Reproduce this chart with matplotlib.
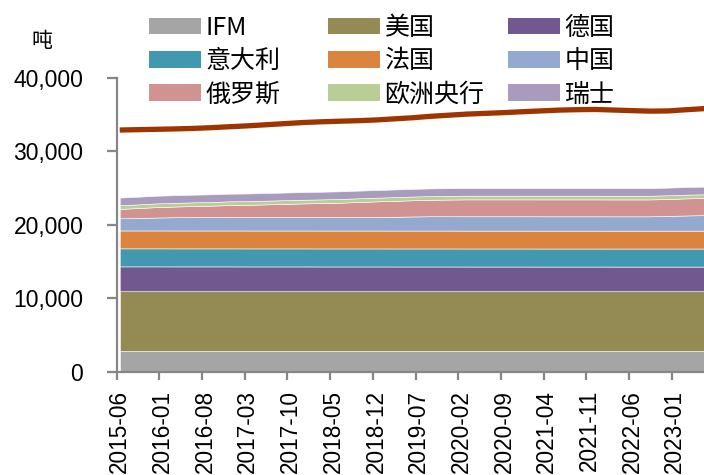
import matplotlib
matplotlib.use("Agg")
import matplotlib.pyplot as plt
from matplotlib.patches import Patch
from matplotlib.ticker import FuncFormatter, FixedLocator

plt.rcParams['font.family'] = ['Noto Sans CJK SC', 'DejaVu Sans']

# ---------------- data (tonnes, quarterly samples) ----------------
dates = ["2015-06", "2015-09", "2015-12",
         "2016-03", "2016-06", "2016-09", "2016-12",
         "2017-03", "2017-06", "2017-09", "2017-12",
         "2018-03", "2018-06", "2018-09", "2018-12",
         "2019-03", "2019-06", "2019-09", "2019-12",
         "2020-03", "2020-06", "2020-09", "2020-12",
         "2021-03", "2021-06", "2021-09", "2021-12",
         "2022-03", "2022-06", "2022-09", "2022-12",
         "2023-03", "2023-06"]

imf = [2814, 2814, 2814, 2814, 2814, 2814, 2814, 2814, 2814, 2814, 2814,
       2814, 2814, 2814, 2814, 2814, 2814, 2814, 2814, 2814, 2814, 2814,
       2814, 2814, 2814, 2814, 2814, 2814, 2814, 2814, 2814, 2814, 2814]
usa = [8133.5, 8133.5, 8133.5, 8133.5, 8133.5, 8133.5, 8133.5, 8133.5, 8133.5,
       8133.5, 8133.5, 8133.5, 8133.5, 8133.5, 8133.5, 8133.5, 8133.5, 8133.5,
       8133.5, 8133.5, 8133.5, 8133.5, 8133.5, 8133.5, 8133.5, 8133.5, 8133.5,
       8133.5, 8133.5, 8133.5, 8133.5, 8133.5, 8133.5]
germany = [3381, 3381, 3381, 3378, 3378, 3378, 3378, 3374, 3374, 3374, 3374,
           3370, 3370, 3370, 3370, 3367, 3367, 3367, 3367, 3362, 3362, 3362,
           3362, 3359, 3359, 3359, 3359, 3355, 3355, 3355, 3355, 3355, 3355]
italy = [2451.8, 2451.8, 2451.8, 2451.8, 2451.8, 2451.8, 2451.8, 2451.8, 2451.8,
         2451.8, 2451.8, 2451.8, 2451.8, 2451.8, 2451.8, 2451.8, 2451.8, 2451.8,
         2451.8, 2451.8, 2451.8, 2451.8, 2451.8, 2451.8, 2451.8, 2451.8, 2451.8,
         2451.8, 2451.8, 2451.8, 2451.8, 2451.8, 2451.8]
france = [2435.6, 2435.6, 2435.8, 2435.8, 2435.8, 2436, 2436, 2436, 2436, 2436,
          2436, 2436, 2436, 2436, 2436, 2436, 2436, 2436, 2436, 2436, 2436, 2436,
          2436, 2436, 2436, 2436, 2436, 2436, 2436, 2436, 2436, 2436, 2436]
china = [1658, 1693, 1762, 1798, 1823, 1838, 1843, 1843, 1843, 1843, 1843,
         1843, 1843, 1843, 1852, 1874, 1916, 1948, 1948, 1948, 1948, 1948,
         1948, 1948, 1948, 1948, 1948, 1948, 1948, 1948, 2010, 2068, 2113]
russia = [1275, 1352, 1415, 1460, 1500, 1540, 1615, 1650, 1716, 1779, 1839,
          1891, 1944, 2036, 2113, 2168, 2208, 2241, 2271, 2299, 2299, 2299,
          2299, 2299, 2299, 2299, 2299, 2299, 2299, 2299, 2299, 2326, 2330]
ecb = [504.8, 504.8, 504.8, 504.8, 504.8, 504.8, 504.8, 504.8, 504.8, 504.8,
       504.8, 504.8, 504.8, 504.8, 504.8, 504.8, 504.8, 504.8, 504.8, 506.5,
       506.5, 506.5, 506.5, 506.5, 506.5, 506.5, 506.5, 506.5, 506.5, 506.5,
       506.5, 506.5, 506.5]
swiss = [1040, 1040, 1040, 1040, 1040, 1040, 1040, 1040, 1040, 1040, 1040,
         1040, 1040, 1040, 1040, 1040, 1040, 1040, 1040, 1040, 1040, 1040,
         1040, 1040, 1040, 1040, 1040, 1040, 1040, 1040, 1040, 1040, 1040]
total = [32880, 32930, 32980, 33030, 33100, 33200, 33330, 33450, 33600, 33750,
         33900, 34000, 34080, 34150, 34250, 34400, 34550, 34750, 34900, 35050,
         35150, 35250, 35370, 35480, 35590, 35650, 35680, 35600, 35520, 35450,
         35480, 35650, 35800]

series_names = ["IFM", "美国", "德国", "意大利", "法国", "中国", "俄罗斯", "欧洲央行", "瑞士"]
series_vals = [imf, usa, germany, italy, france, china, russia, ecb, swiss]
colors = ["#A5A5A5", "#948A54", "#71588F", "#4198AF", "#DB843D",
          "#93A9CF", "#D19392", "#B9CD96", "#A99BBD"]
line_color = "#9C3500"

tick_labels = ["2015-06", "2016-01", "2016-08", "2017-03", "2017-10", "2018-05",
               "2018-12", "2019-07", "2020-02", "2020-09", "2021-04", "2021-11",
               "2022-06", "2023-01"]


def month_index(s):
    y, m = s.split("-")
    return (int(y) - 2015) * 12 + (int(m) - 6)


x = [month_index(d) for d in dates]
tick_pos = [month_index(t) for t in tick_labels]

# ---------------- figure ----------------
W, H = 704, 475
fig = plt.figure(figsize=(W / 100, H / 100), dpi=100)
ax_l, ax_b, ax_r, ax_t = 116.7, 371.7, 704, 77.7
ax = fig.add_axes([ax_l / W, (H - ax_b) / H, (ax_r - ax_l) / W, (ax_b - ax_t) / H])

ax.stackplot(x, *series_vals, colors=colors, edgecolor="#FFFFFF",
             linewidth=0.4)
ax.plot(x, total, color=line_color, linewidth=3.8, solid_capstyle="butt")

ax.set_xlim(-0.5, 95.8)
ax.set_ylim(0, 40000)

for s in ["top", "right"]:
    ax.spines[s].set_visible(False)
for s in ["left", "bottom"]:
    ax.spines[s].set_color("#868686")
    ax.spines[s].set_linewidth(1.6)

ax.yaxis.set_major_locator(FixedLocator([0, 10000, 20000, 30000, 40000]))
ax.yaxis.set_major_formatter(FuncFormatter(lambda v, p: f"{int(v):,}"))
ax.tick_params(axis="y", direction="out", length=7, width=1.6, color="#868686",
               pad=17, labelsize=16.5, labelcolor="#000000")
for lab in ax.get_yticklabels():
    lab.set_family(["Liberation Sans", "DejaVu Sans"])

# x: tick marks at slot starts, labels at slot centres
ax.set_xticks([p - 0.5 for p in tick_pos])
ax.set_xticklabels([])
ax.tick_params(axis="x", which="major", direction="out", length=6, width=1.6,
               color="#868686")
ax.set_xticks(tick_pos, minor=True)
ax.set_xticklabels(tick_labels, minor=True, rotation=90, fontsize=16.3,
                   family=["Liberation Sans", "DejaVu Sans"])
ax.tick_params(axis="x", which="minor", length=0, pad=13)

# unit label
fig.text(42 / W, 1 - 41 / H, "吨", fontsize=15, ha="center", va="center")

# legend: three columns
col_x = [149, 328, 508]
cols = [[0, 3, 6], [1, 4, 7], [2, 5, 8]]
for cx, idxs in zip(col_x, cols):
    handles = [Patch(facecolor=colors[i], edgecolor="none", label=series_names[i])
               for i in idxs]
    leg = fig.legend(handles=handles, loc="upper left",
                     bbox_to_anchor=(cx / W, 1 - 15 / H), frameon=False,
                     borderpad=0, borderaxespad=0, fontsize=18,
                     handlelength=2.08, handleheight=0.64, handletextpad=0.18,
                     labelspacing=0.29)

fig.savefig("out.png", dpi=100)
